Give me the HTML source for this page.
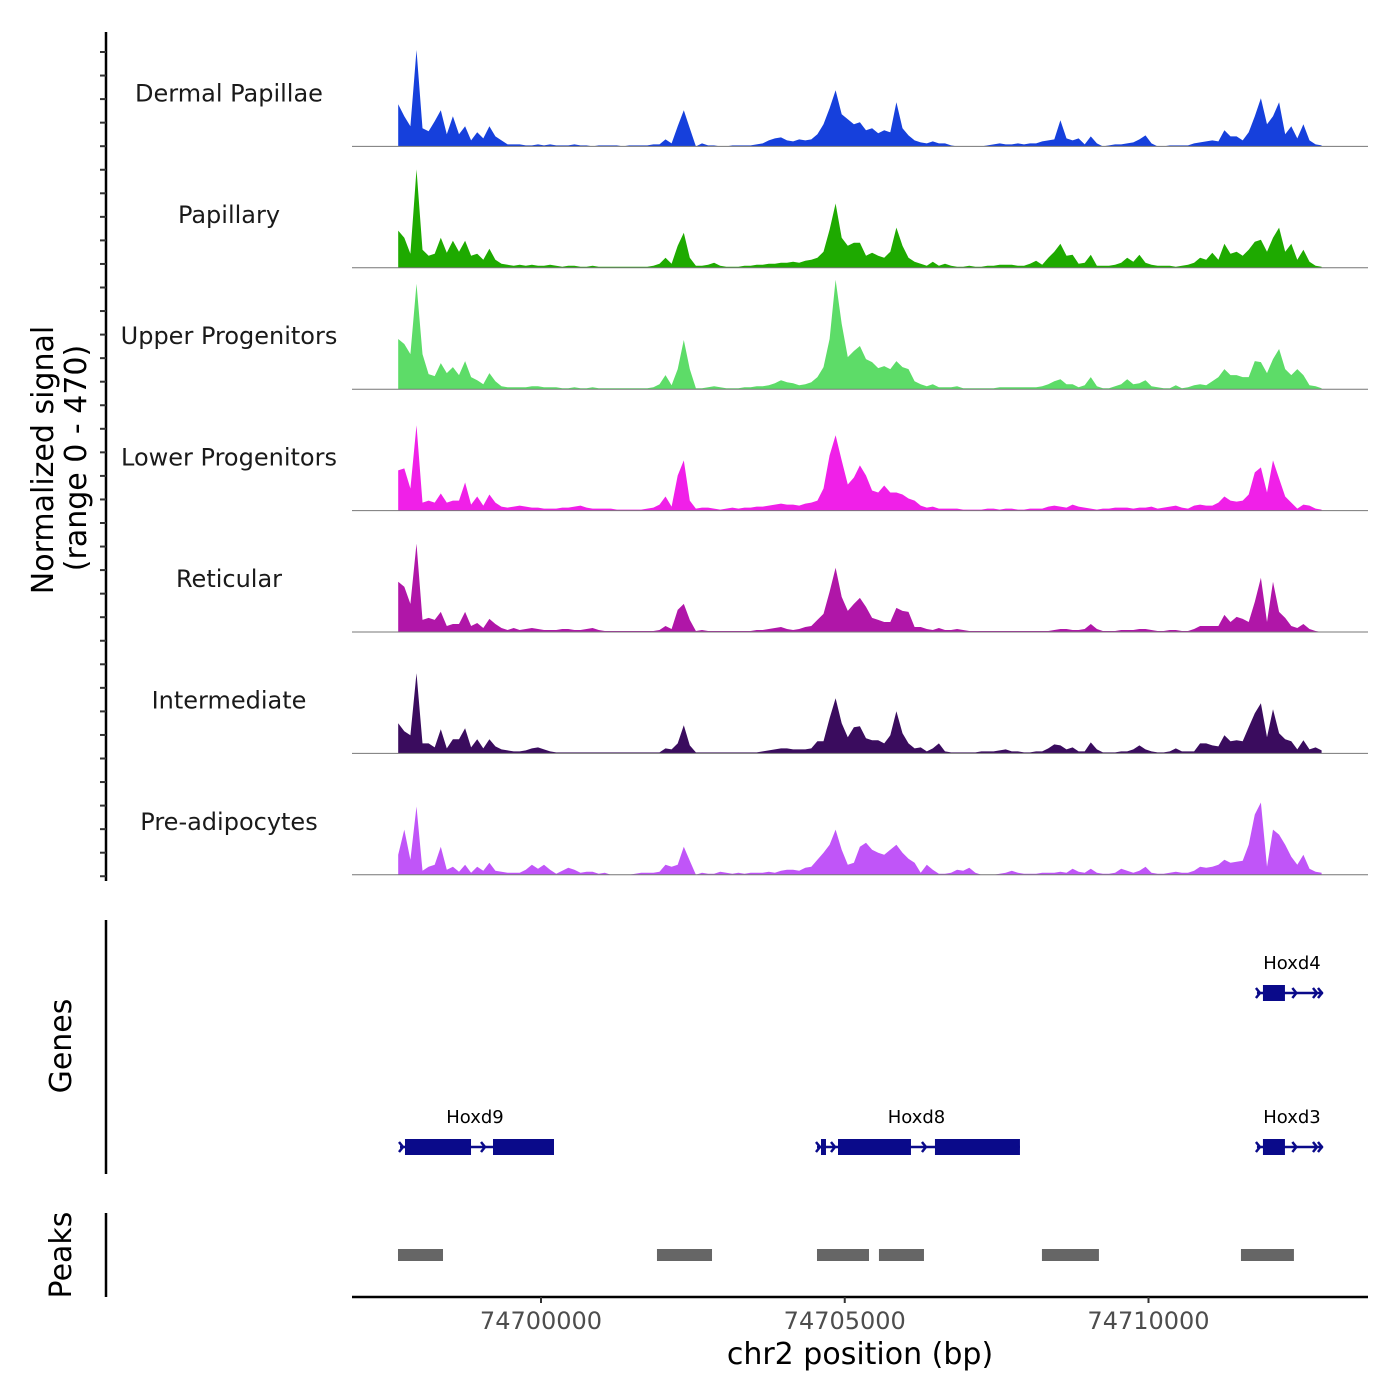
<!DOCTYPE html>
<html><head><meta charset="utf-8"><style>
html,body{margin:0;padding:0;background:#fff;}
svg{display:block;font-family:"DejaVu Sans","Liberation Sans",sans-serif;}
</style></head><body>
<svg id="chart" width="1400" height="1400" viewBox="0 0 1400 1400" xmlns="http://www.w3.org/2000/svg">
<rect width="1400" height="1400" fill="#fff"/>
<g id="tracks"></g>
<g id="yaxis"></g>
<text transform="translate(53,460) rotate(-90)" text-anchor="middle" font-size="30" fill="#000">Normalized signal</text>
<text transform="translate(86,458) rotate(-90)" text-anchor="middle" font-size="30" fill="#000">(range 0 - 470)</text>
<g id="genes"></g>
<line x1="106" y1="920" x2="106" y2="1174" stroke="#000" stroke-width="2.5"/>
<text transform="translate(71,1046) rotate(-90)" text-anchor="middle" font-size="30">Genes</text>
<g id="peaks"></g>
<line x1="106" y1="1213" x2="106" y2="1297" stroke="#000" stroke-width="2.5"/>
<text transform="translate(71,1255) rotate(-90)" text-anchor="middle" font-size="30">Peaks</text>
<g id="xaxis"></g>
<text x="860" y="1364" text-anchor="middle" font-size="30">chr2 position (bp)</text>
</svg>
<script>
// ---- data ----
const binStart = 74697650;
const binSize = 100;
const trackNames = ["Dermal Papillae","Papillary","Upper Progenitors","Lower Progenitors","Reticular","Intermediate","Pre-adipocytes"];
const trackColors = ["#1640dc","#1eaa00","#5ddc68","#f020e8","#b016a8","#3a0c5e","#c055f8"];
const dermalPapillae = [168,120,80,384,72,60,100,144,48,120,48,80,24,56,32,80,40,24,8,8,
8,4,4,8,4,8,4,4,4,8,4,4,0,4,4,4,4,0,4,4,4,4,8,
8,28,12,80,144,72,0,12,4,4,0,0,4,4,4,4,8,
12,24,32,36,24,20,28,24,28,48,88,152,224,128,108,88,96,64,72,52,64,56,176,72,44,24,16,12,20,12,12,4,0,0,0,0,0,4,8,12,8,8,12,8,12,12,20,24,28,104,32,24,32,8,40,12,0,4,8,8,12,16,28,44,12,0,0,4,4,4,4,12,16,20,24,20,64,40,40,24,56,120,192,88,120,176,48,80,32,88,24,8,4];
const papillary = [148,120,56,392,72,48,56,120,60,108,64,108,48,56,32,76,32,16,12,8,
12,8,12,8,8,12,8,4,8,8,4,4,8,4,4,4,4,4,4,4,4,4,8,
16,40,16,88,140,40,8,8,12,20,8,4,4,4,8,8,12,
12,16,16,20,20,24,20,28,32,40,64,152,256,120,88,100,100,48,60,48,40,64,160,88,40,24,16,8,24,8,16,8,4,4,8,4,4,8,8,12,12,12,8,8,16,28,12,40,64,96,48,52,16,20,52,8,8,8,12,20,40,24,52,20,12,8,8,8,4,8,12,20,40,32,60,32,96,56,64,48,72,104,112,64,120,160,64,96,32,72,24,8,4];
const upperProgenitors = [200,180,140,420,140,60,52,104,64,88,56,112,48,36,20,64,32,12,8,8,
8,8,12,12,8,8,8,4,4,8,4,4,8,4,4,4,4,4,4,4,4,4,8,
20,56,16,80,196,80,4,4,8,12,8,4,4,4,8,8,12,
12,16,24,36,28,24,16,20,28,48,88,200,436,260,128,152,172,120,108,84,92,80,112,88,80,32,20,12,20,8,8,8,12,4,4,4,4,4,4,8,8,8,8,8,8,8,12,20,32,40,20,20,8,16,48,12,4,4,12,20,40,20,24,36,12,8,4,4,16,4,8,16,20,16,32,48,80,56,56,48,48,112,108,64,120,160,80,56,80,56,16,12,4];
const lowerProgenitors = [160,168,88,340,32,40,32,68,32,40,40,112,24,56,20,64,32,16,12,16,
20,16,12,12,8,8,8,12,12,16,20,12,8,8,8,8,4,4,4,4,4,8,12,
24,56,16,140,200,40,8,12,12,8,4,8,12,8,12,12,16,
16,20,24,28,24,24,20,28,32,40,88,220,300,200,104,132,180,140,80,72,100,72,72,64,48,40,20,12,16,8,8,8,8,4,4,4,4,8,8,4,8,8,4,4,8,8,8,16,20,16,12,24,16,12,8,4,8,8,12,12,12,8,12,12,16,8,12,16,20,12,8,20,24,20,20,32,56,40,36,40,64,152,172,72,200,128,56,32,8,24,20,8,4];
const reticular = [200,180,112,352,48,56,48,80,24,32,32,80,24,36,16,52,32,16,8,16,
8,12,16,12,8,8,8,12,12,8,8,12,16,8,4,4,4,4,4,4,4,4,4,
8,24,12,88,112,48,4,8,4,4,4,4,4,4,4,4,8,
8,12,16,20,12,8,12,20,24,48,72,160,256,140,84,112,136,100,56,48,40,40,96,84,80,20,20,12,8,16,8,8,12,8,4,4,4,4,4,4,4,4,4,4,4,4,4,4,8,12,12,8,8,12,32,12,4,4,4,8,8,8,12,12,8,4,4,8,8,4,4,12,24,24,24,24,68,40,60,52,40,120,216,40,200,80,56,24,16,32,12,4,0];
const intermediate = [120,88,72,320,40,40,24,96,20,56,56,100,24,56,20,56,28,16,12,8,
8,12,20,24,16,8,4,4,4,4,4,4,4,4,4,4,4,4,4,4,4,4,4,
4,20,16,40,112,32,4,4,4,4,4,4,4,4,4,4,4,
8,12,16,20,20,16,16,16,20,48,48,140,220,120,64,104,108,60,52,52,40,72,168,80,40,20,24,8,20,40,8,4,4,4,4,4,8,8,8,12,16,8,8,4,4,8,8,20,36,32,16,24,8,8,44,16,4,4,4,8,8,16,32,16,8,4,4,8,20,8,8,8,40,40,32,28,72,48,52,48,104,160,200,64,176,80,56,48,16,52,16,24,12];
const preAdipocytes = [80,180,60,272,16,32,40,112,20,32,12,40,8,32,16,48,16,12,8,8,
8,20,40,24,40,20,4,16,28,20,8,12,12,4,8,0,0,0,0,4,8,8,8,
12,40,32,40,112,56,0,8,4,4,12,8,4,8,4,8,8,
8,12,8,16,20,20,16,28,32,60,88,120,180,100,40,48,112,128,100,88,80,100,120,88,64,48,8,40,20,4,4,8,20,16,28,8,0,0,0,4,8,16,8,4,4,4,8,8,8,12,8,24,12,8,24,8,4,4,8,24,16,8,16,32,8,4,4,8,12,8,8,16,32,28,32,40,60,48,52,56,120,240,288,32,180,160,120,72,40,80,24,12,8];
const trackValues = [dermalPapillae,papillary,upperProgenitors,lowerProgenitors,reticular,intermediate,preAdipocytes];
const signalMax = 470;
const xTicks = [74700000,74705000,74710000];
const geneNames = ["Hoxd9","Hoxd8","Hoxd4","Hoxd3"];
const geneStarts = [74697679,74704543,74711785,74711785];
const geneEnds = [74700214,74707884,74712872,74712872];
const geneRows = [1,1,0,1];
const exonStarts = [[74697761,74699210],[74704609,74704889,74706485],[74711884],[74711884]];
const exonEnds = [[74698848,74700214],[74704691,74706090,74707884],[74712246],[74712246]];
const peakStarts = [74697646,74701909,74704543,74705563,74708246,74711522];
const peakEnds = [74698387,74702815,74705399,74706304,74709184,74712394];

// ---- scales ----
const NS = "http://www.w3.org/2000/svg";
function xs(bp){ return 541 + (bp - 74700000) * 0.06075; }
const trackTop = 32, trackH = 121.4, peakPx = 118;
function baseY(t){ return trackTop + trackH*(t+1) - 7; }
function mk(tag, parent, attrs){ const e=document.createElementNS(NS,tag); for(const k in attrs) e.setAttribute(k,attrs[k]); parent.appendChild(e); return e; }

// ---- tracks ----
const gT = document.getElementById('tracks');
trackValues.forEach((vals,t)=>{
  const b = baseY(t);
  const yb = v => b - v/signalMax*peakPx;
  let d = `M${xs(binStart).toFixed(1)},${b}`;
  vals.forEach((v,i)=>{ d += ` L${xs(binStart+i*binSize).toFixed(1)},${yb(v).toFixed(1)}`; });
  d += ` L${xs(binStart+(vals.length-1)*binSize).toFixed(1)},${b} Z`;
  const p = mk('path', gT, {d:d, fill:trackColors[t]});
  
  
  const ln = mk('line', gT, {x1:352,x2:1368,y1:b,y2:b,stroke:'#777','stroke-width':1});
  
  
  const tx = mk('text', gT, {x:229,y:b-45,'text-anchor':'middle','font-size':24,fill:'#1a1a1a'});
  tx.textContent = trackNames[t];
  
  
});

// ---- y axis ----
const gY = document.getElementById('yaxis');
const ya = mk('line', gY, {x1:106,x2:106,y1:32,y2:881,stroke:'#000','stroke-width':2.5});


for(let k=0;k<36;k++){
  const yy = 52 + k*23.55;
  const tk = mk('line', gY, {x1:100,x2:106,y1:yy,y2:yy,stroke:'#333','stroke-width':2});
  
  
}

// ---- genes ----
const gG = document.getElementById('genes');
const gc = '#0a0a8a';
geneNames.forEach((n,g)=>{
  const cy = geneRows[g] ? 1147 : 993;
  const x0 = xs(geneStarts[g]), x1 = xs(geneEnds[g]);
  const gl = mk('line', gG, {x1:x0,x2:x1,y1:cy,y2:cy,stroke:gc,'stroke-width':2.5});
  
  
  const chev = [x0+3];
  exonStarts[g].forEach((s,i)=>{ if(i>0) chev.push((xs(exonEnds[g][i-1])+xs(s))/2+3); });
  if (x1 - xs(exonEnds[g][exonEnds[g].length-1]) > 15){ const e=xs(exonEnds[g][exonEnds[g].length-1]); chev.push(e+(x1-e)*0.3, x1-6, x1-1); }
  chev.forEach(cx=>{
    const c = mk('path', gG, {d:`M${cx-4},${cy-5} L${cx},${cy} L${cx-4},${cy+5}`,stroke:gc,'stroke-width':2.5,fill:'none'});
    
    
  });
  exonStarts[g].forEach((s,i)=>{
    const r = mk('rect', gG, {x:xs(s),y:cy-8,width:xs(exonEnds[g][i])-xs(s),height:16,fill:gc});
    
    
  });
  const lt = mk('text', gG, {x: g>=2 ? 1292 : (x0+x1)/2 - 2, y:cy-24,'text-anchor':'middle','font-size':18,fill:'#000'});
  lt.textContent = n;
  
  
});

// ---- peaks ----
const gP = document.getElementById('peaks');
peakStarts.forEach((s,i)=>{
  const r = mk('rect', gP, {x:xs(s),y:1249,width:xs(peakEnds[i])-xs(s),height:12,fill:'#666'});
  
  
});

// ---- x axis ----
const gX = document.getElementById('xaxis');
const xl = mk('line', gX, {x1:352,x2:1368,y1:1297,y2:1297,stroke:'#000','stroke-width':2.5});


xTicks.forEach(v=>{
  const tk = mk('line', gX, {x1:xs(v),x2:xs(v),y1:1297,y2:1303,stroke:'#333','stroke-width':2});
  
  
  const tl = mk('text', gX, {x:xs(v),y:1329,'text-anchor':'middle','font-size':24,fill:'#4d4d4d'});
  tl.textContent = String(v);
  
  
});
</script>
</body></html>
